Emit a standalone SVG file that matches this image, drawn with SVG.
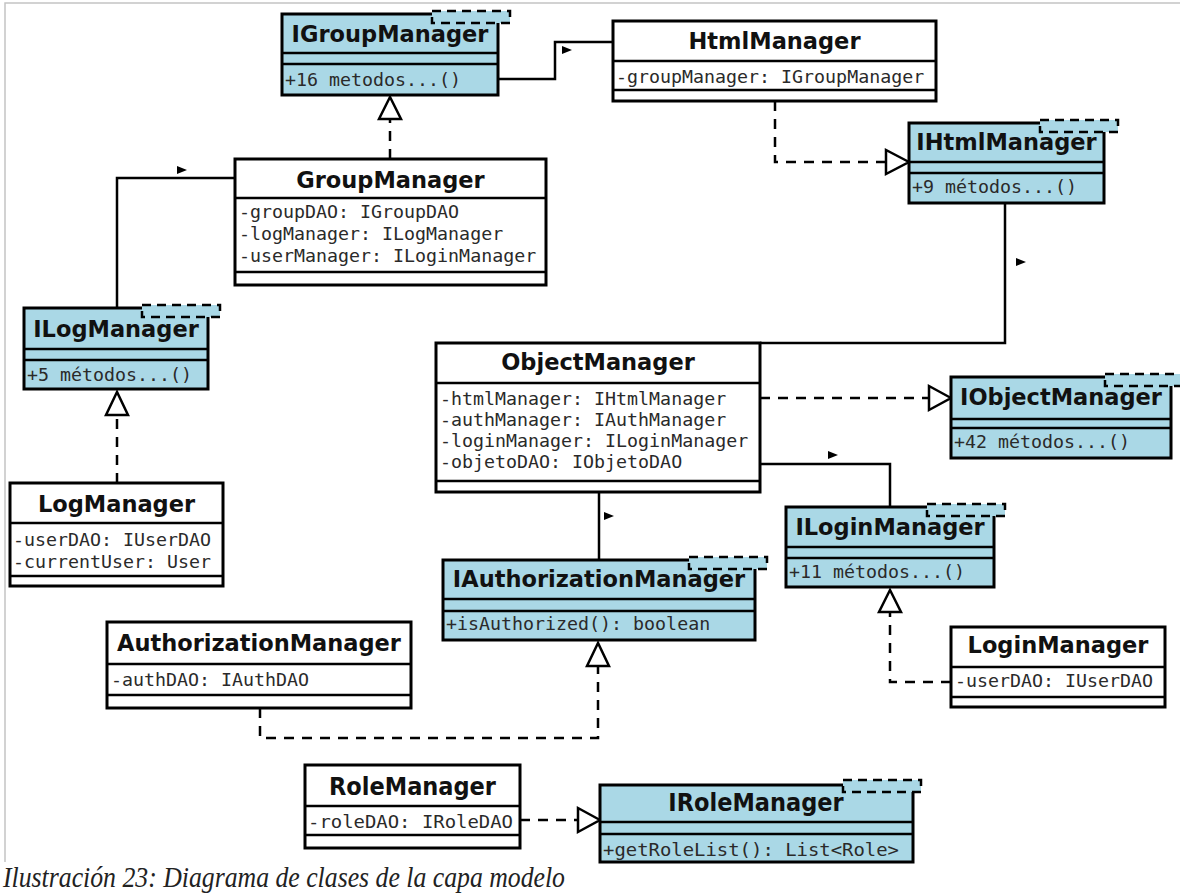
<svg xmlns="http://www.w3.org/2000/svg" width="1180" height="894" viewBox="0 0 1180 894">
  <style>
    .frame { stroke: #c4c4c4; stroke-width: 1.5; fill: none; }
    .cls { fill: #ffffff; stroke: #000; stroke-width: 3; }
    .ifc { fill: #aad8e6; stroke: #000; stroke-width: 3; }
    .sep { stroke: #000; stroke-width: 2.5; }
    .tpl { fill: #aad8e6; stroke: #000; stroke-width: 2.5; stroke-dasharray: 9 6; }
    .title { font-family: "DejaVu Sans", "Noto Sans", sans-serif; font-weight: bold; font-size: 22.5px; text-anchor: middle; fill: #111; }
    .titlec { font-family: "DejaVu Sans Condensed", "DejaVu Sans", sans-serif; font-weight: bold; font-size: 25px; text-anchor: middle; fill: #111; }
    .mono { font-family: "DejaVu Sans Mono", "Liberation Mono", monospace; font-size: 18.3px; fill: #2a2a2a; }
    .assoc { fill: none; stroke: #000; stroke-width: 2.5; }
    .real { fill: none; stroke: #000; stroke-width: 2.5; stroke-dasharray: 10 8; }
    .hollow { fill: #fff; stroke: #000; stroke-width: 2.5; stroke-linejoin: miter; }
    .nav { fill: #000; }
    .caption { font-family: "Liberation Serif", "DejaVu Serif", serif; font-style: italic; font-size: 30px; fill: #222; }
  </style>
  <defs>
    <!-- small filled triangle showing association direction -->
    <path id="navArrow" class="nav" d="M0,0 L10,4 L0,8 Z"/>
  </defs>

  <!-- page frame -->
  <path class="frame" d="M5,862 V3 H1180"/>

  <!-- connectors -->
  <g id="connectors">
    <!-- IGroupManager - HtmlManager -->
    <path class="assoc" d="M498,79 H555 V42 H613"/>
    <use href="#navArrow" x="562" y="46"/>
    <!-- HtmlManager realizes IHtmlManager -->
    <path class="real" d="M775,101 V162 H887"/>
    <path class="hollow" d="M909,162 L886,150 L886,174 Z"/>
    <!-- IHtmlManager - ObjectManager -->
    <path class="assoc" d="M1005,203 V343 H760"/>
    <use href="#navArrow" x="1016" y="258"/>
    <!-- GroupManager realizes IGroupManager -->
    <path class="real" d="M390,159 V119"/>
    <path class="hollow" d="M390,97 L379,119 L401,119 Z"/>
    <!-- GroupManager - ILogManager -->
    <path class="assoc" d="M235,178 H117 V308"/>
    <use href="#navArrow" x="177" y="166"/>
    <!-- LogManager realizes ILogManager -->
    <path class="real" d="M117,483 V415"/>
    <path class="hollow" d="M117,392 L106,415 L128,415 Z"/>
    <!-- ObjectManager realizes IObjectManager -->
    <path class="real" d="M760,398 H929"/>
    <path class="hollow" d="M951,398 L929,386 L929,410 Z"/>
    <!-- ObjectManager - IAuthorizationManager -->
    <path class="assoc" d="M599,492 V560"/>
    <use href="#navArrow" x="604" y="512"/>
    <!-- ObjectManager - ILoginManager -->
    <path class="assoc" d="M760,464 H890 V507"/>
    <use href="#navArrow" x="828" y="451"/>
    <!-- LoginManager realizes ILoginManager -->
    <path class="real" d="M951,682 H890 V612"/>
    <path class="hollow" d="M890,590 L879,612 L901,612 Z"/>
    <!-- AuthorizationManager realizes IAuthorizationManager -->
    <path class="real" d="M260,708 V738 H598 V666"/>
    <path class="hollow" d="M598,643 L587,666 L609,666 Z"/>
    <!-- RoleManager realizes IRoleManager -->
    <path class="real" d="M520,820 H578"/>
    <path class="hollow" d="M600,820 L578,808 L578,832 Z"/>
  </g>

  <g id="IGroupManager">
    <rect class="ifc" x="282" y="14" width="216" height="81"/>
    <line class="sep" x1="282" y1="53" x2="498" y2="53"/>
    <line class="sep" x1="282" y1="64" x2="498" y2="64"/>
    <text class="title" x="390" y="42">IGroupManager</text>
    <text class="mono" x="285" y="86">+16 metodos...()</text>
    <rect class="tpl" x="432" y="11" width="78" height="12"/>
  </g>

  <g id="HtmlManager">
    <rect class="cls" x="613" y="21" width="323" height="80"/>
    <line class="sep" x1="613" y1="61" x2="936" y2="61"/>
    <line class="sep" x1="613" y1="90" x2="936" y2="90"/>
    <text class="title" x="774.5" y="49">HtmlManager</text>
    <text class="mono" x="616" y="83">-groupManager: IGroupManager</text>
  </g>

  <g id="IHtmlManager">
    <rect class="ifc" x="909" y="123" width="195" height="80"/>
    <line class="sep" x1="909" y1="162" x2="1104" y2="162"/>
    <line class="sep" x1="909" y1="173" x2="1104" y2="173"/>
    <text class="title" x="1006.5" y="150">IHtmlManager</text>
    <text class="mono" x="912" y="193">+9 métodos...()</text>
    <rect class="tpl" x="1040" y="120" width="78" height="12"/>
  </g>

  <g id="GroupManager">
    <rect class="cls" x="235" y="159" width="311" height="126"/>
    <line class="sep" x1="235" y1="198" x2="546" y2="198"/>
    <line class="sep" x1="235" y1="272" x2="546" y2="272"/>
    <text class="title" x="390.5" y="188">GroupManager</text>
    <text class="mono" x="239" y="218">-groupDAO: IGroupDAO</text>
    <text class="mono" x="239" y="240">-logManager: ILogManager</text>
    <text class="mono" x="239" y="262">-userManager: ILoginManager</text>
  </g>

  <g id="ILogManager">
    <rect class="ifc" x="24" y="308" width="184" height="81"/>
    <line class="sep" x1="24" y1="349" x2="208" y2="349"/>
    <line class="sep" x1="24" y1="360" x2="208" y2="360"/>
    <text class="title" x="116" y="337">ILogManager</text>
    <text class="mono" x="27" y="381">+5 métodos...()</text>
    <rect class="tpl" x="142" y="305" width="78" height="12"/>
  </g>

  <g id="LogManager">
    <rect class="cls" x="10" y="483" width="213" height="103"/>
    <line class="sep" x1="10" y1="523" x2="223" y2="523"/>
    <line class="sep" x1="10" y1="576" x2="223" y2="576"/>
    <text class="title" x="116.5" y="512">LogManager</text>
    <text class="mono" x="13" y="546">-userDAO: IUserDAO</text>
    <text class="mono" x="13" y="568">-currentUser: User</text>
  </g>

  <g id="ObjectManager">
    <rect class="cls" x="436" y="343" width="324" height="149"/>
    <line class="sep" x1="436" y1="383" x2="760" y2="383"/>
    <line class="sep" x1="436" y1="481" x2="760" y2="481"/>
    <text class="title" x="598" y="370">ObjectManager</text>
    <text class="mono" x="440" y="405">-htmlManager: IHtmlManager</text>
    <text class="mono" x="440" y="426">-authManager: IAuthManager</text>
    <text class="mono" x="440" y="447">-loginManager: ILoginManager</text>
    <text class="mono" x="440" y="468">-objetoDAO: IObjetoDAO</text>
  </g>

  <g id="IObjectManager">
    <rect class="ifc" x="951" y="377" width="220" height="81"/>
    <line class="sep" x1="951" y1="419" x2="1171" y2="419"/>
    <line class="sep" x1="951" y1="428" x2="1171" y2="428"/>
    <text class="title" x="1061" y="405">IObjectManager</text>
    <text class="mono" x="954" y="448">+42 métodos...()</text>
    <rect class="tpl" x="1105" y="374" width="78" height="12"/>
  </g>

  <g id="IAuthorizationManager">
    <rect class="ifc" x="443" y="560" width="312" height="80"/>
    <line class="sep" x1="443" y1="599" x2="755" y2="599"/>
    <line class="sep" x1="443" y1="611" x2="755" y2="611"/>
    <text class="title" x="599" y="587">IAuthorizationManager</text>
    <text class="mono" x="446" y="630">+isAuthorized(): boolean</text>
    <rect class="tpl" x="689" y="557" width="78" height="12"/>
  </g>

  <g id="ILoginManager">
    <rect class="ifc" x="786" y="507" width="208" height="80"/>
    <line class="sep" x1="786" y1="547" x2="994" y2="547"/>
    <line class="sep" x1="786" y1="558" x2="994" y2="558"/>
    <text class="title" x="890" y="535">ILoginManager</text>
    <text class="mono" x="789" y="578">+11 métodos...()</text>
    <rect class="tpl" x="927" y="504" width="78" height="12"/>
  </g>

  <g id="LoginManager">
    <rect class="cls" x="951" y="627" width="214" height="80"/>
    <line class="sep" x1="951" y1="667" x2="1165" y2="667"/>
    <line class="sep" x1="951" y1="697" x2="1165" y2="697"/>
    <text class="title" x="1058" y="653">LoginManager</text>
    <text class="mono" x="955" y="687">-userDAO: IUserDAO</text>
  </g>

  <g id="AuthorizationManager">
    <rect class="cls" x="107" y="622" width="304" height="86"/>
    <line class="sep" x1="107" y1="664" x2="411" y2="664"/>
    <line class="sep" x1="107" y1="695" x2="411" y2="695"/>
    <text class="title" x="259" y="651">AuthorizationManager</text>
    <text class="mono" x="111" y="686">-authDAO: IAuthDAO</text>
  </g>

  <g id="RoleManager">
    <rect class="cls" x="305" y="765" width="215" height="83"/>
    <line class="sep" x1="305" y1="806" x2="520" y2="806"/>
    <line class="sep" x1="305" y1="835" x2="520" y2="835"/>
    <text class="titlec" x="412.5" y="795">RoleManager</text>
    <text class="mono" x="308" y="828" font-size="21" textLength="205" lengthAdjust="spacingAndGlyphs">-roleDAO: IRoleDAO</text>
  </g>

  <g id="IRoleManager">
    <rect class="ifc" x="600" y="785" width="313" height="77"/>
    <line class="sep" x1="600" y1="822" x2="913" y2="822"/>
    <line class="sep" x1="600" y1="834" x2="913" y2="834"/>
    <text class="titlec" x="756" y="811">IRoleManager</text>
    <text class="mono" x="603" y="856" font-size="21" textLength="296" lengthAdjust="spacingAndGlyphs">+getRoleList(): List&lt;Role&gt;</text>
    <rect class="tpl" x="843" y="780" width="78" height="12"/>
  </g>

  <text class="caption" x="3" y="887" textLength="562" lengthAdjust="spacingAndGlyphs">Ilustración 23: Diagrama de clases de la capa modelo</text>
</svg>
